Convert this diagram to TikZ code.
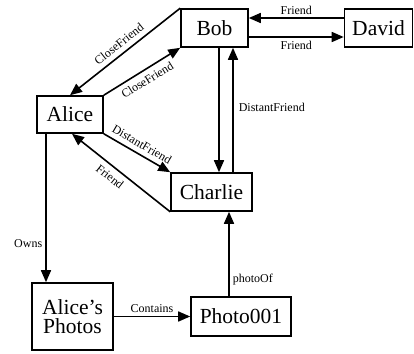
\documentclass[tikz,border=0pt]{standalone}
\usepackage{fontspec}
\setmainfont{Liberation Serif}
\usetikzlibrary{arrows.meta}
\begin{document}
\begin{tikzpicture}[x=1pt,y=-1pt,
  box/.style={draw,line width=1.6pt,inner sep=0pt,font=\fontsize{21.5}{22}\selectfont,align=center},
  conn/.style={line width=1.6pt,-{Triangle[length=12pt,width=10pt]}},
  lbl/.style={font=\fontsize{12}{13}\selectfont,inner sep=2pt}]
\useasboundingbox (0,0) rectangle (414,353);
\node[box,minimum width=67pt,minimum height=38pt] (bob) at (214.5,28) {Bob};
\node[box,minimum width=68pt,minimum height=38pt] (david) at (378.5,28) {David};
\node[box,minimum width=66pt,minimum height=37pt] (alice) at (70,114.5) {Alice};
\node[box,minimum width=81pt,minimum height=38pt] (charlie) at (211.5,192) {Charlie};
\node[box,minimum width=81pt,minimum height=67pt] (photos) at (72.5,316.5) {Alice’s\\[-3pt]Photos};
\node[box,minimum width=100pt,minimum height=39pt] (photo) at (241,316.5) {Photo001};

\draw[conn] (bob.north west) -- node[lbl,sloped,above=3pt] {CloseFriend} (alice.north);
\draw[conn] (alice.north east) -- node[lbl,sloped,below=3pt] {CloseFriend} (bob.south west);
\draw[conn] (alice.south east) -- node[lbl,sloped,above=3pt] {DistantFriend} (charlie.north west);
\draw[conn] (charlie.south west) -- node[lbl,sloped,below=3pt,pos=0.55] {Friend} ([xshift=2pt]alice.south);
\draw[conn] ([xshift=4.5pt]bob.south) -- ([xshift=7.5pt]charlie.north);
\draw[conn] ([xshift=21.5pt]charlie.north) -- node[lbl,right=3pt,pos=0.52] {DistantFriend} ([xshift=18.5pt]bob.south);
\draw[conn] ([yshift=10pt]david.west) -- node[lbl,above=1pt] {Friend} ([yshift=10pt]bob.east);
\draw[conn] ([yshift=-9pt]bob.east) -- node[lbl,below=1pt] {Friend} ([yshift=-9pt]david.west);
\draw[conn] ([xshift=-24pt]alice.south) -- node[lbl,left=1pt,pos=0.74] {Owns} ([xshift=-24pt]alice.south |- photos.north);
\draw[conn] (photos.east) -- node[lbl,above=1pt] {Contains} (photo.west);
\draw[conn] ([xshift=-12pt]photo.north) -- node[lbl,right=1pt,pos=0.2] {photoOf} ([xshift=-12pt]photo.north |- charlie.south);
\end{tikzpicture}
\end{document}
